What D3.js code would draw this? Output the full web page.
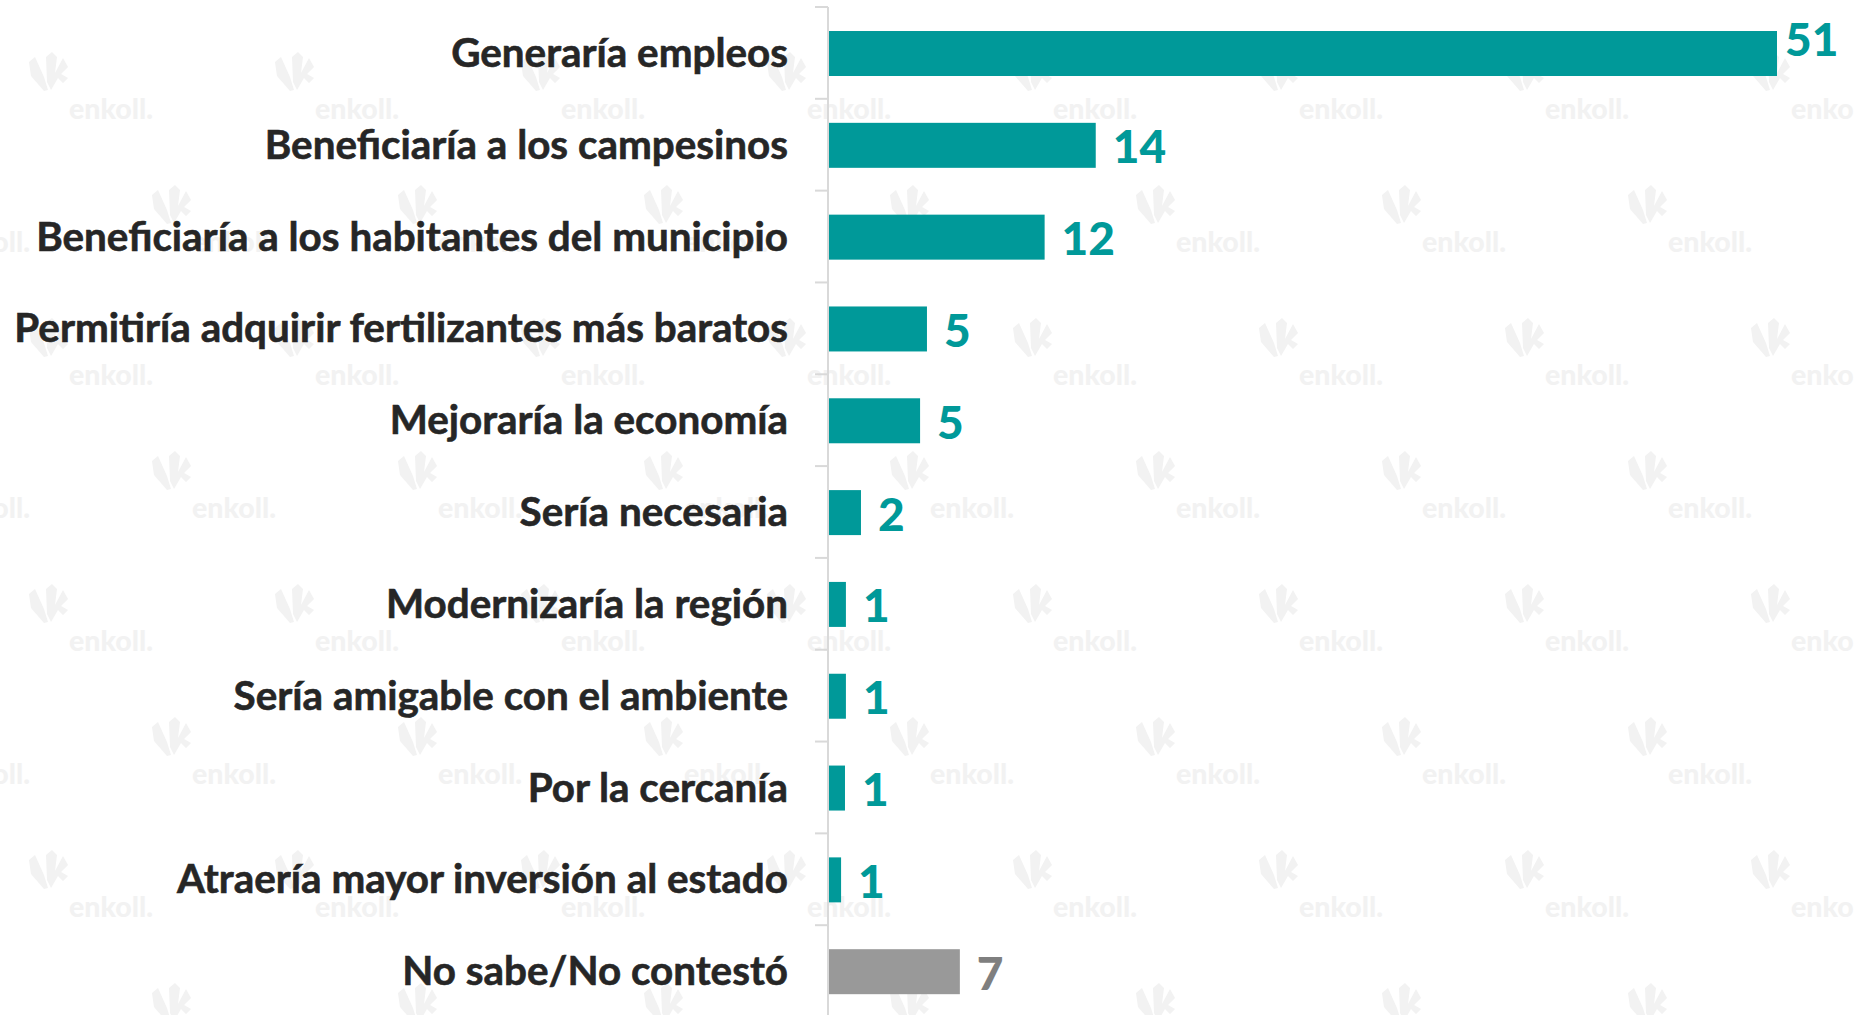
<!DOCTYPE html>
<html>
<head>
<meta charset="utf-8">
<script src="https://d3js.org/d3.v7.min.js"></script>
<style>
  html, body { margin: 0; background: #fff; }
  svg { display: block; }
  text { font-family: Lato, "Open Sans", sans-serif; font-weight: 700; }
</style>
</head>
<body>
<svg id="chart"></svg>
<script>
const categories = [
    "Generaría empleos",
    "Beneficiaría a los campesinos",
    "Beneficiaría a los habitantes del municipio",
    "Permitiría adquirir fertilizantes más baratos",
    "Mejoraría la economía",
    "Sería necesaria",
    "Modernizaría la región",
    "Sería amigable con el ambiente",
    "Por la cercanía",
    "Atraería mayor inversión al estado",
    "No sabe/No contestó"
];
// bar lengths, labels are the rounded numbers it prints
const values = [51, 14.35, 11.6, 5.27, 4.9, 1.72, 0.91, 0.91, 0.86, 0.65, 7.04];
const valueLabels = ["51", "14", "12", "5", "5", "2", "1", "1", "1", "1", "7"];
const greyCategories = ["No sabe/No contestó"];

const width = 1854;
const height = 1015;
const barColor = "#009999";
const greyBar = "#999999";
const greyLabel = "#7f7f7f";

const svg = d3.select("#chart").attr("width", width).attr("height", height);

// --- watermark ---
const watermark = svg.append("g").attr("fill", "#f2f2f2");
const logoPath = "M-20,-10 L-14,-15 L-5,5 L-1,18 L-5,19 L-18,4 Z "
    + "M-3,-15 L3,-20 L8,-15 L6,1 L14,-14 L19,-5 L12,2 L19,6 L14,11 L9,6 L2,18 L-2,10 Z";
d3.range(8).forEach(row => {
    const y = 72 + row * 133;
    const offset = row % 2 === 0 ? 0 : 123;
    d3.range(-1, 8).forEach(col => {
        const x = 49 + offset + col * 246;
        watermark.append("path")
            .attr("d", logoPath)
            .attr("transform", `translate(${x},${y})`);
        watermark.append("text")
            .attr("x", x + 20)
            .attr("y", y + 47)
            .attr("font-size", 28.5)
            .style("font-weight", 900)
            .text("enkoll.");
    });
});

// --- scales ---
const xScale = d3.scaleLinear()
    .domain([0, 51])
    .range([829, 1777]);

const yScale = d3.scaleBand()
    .domain(categories)
    .range([7.6, 1017.6])
    .paddingInner(0.51)
    .paddingOuter(0.255);

// --- axis ---
const tickYs = d3.range(categories.length + 1)
    .map(i => 7 + i * yScale.step());
const axis = svg.append("g").attr("stroke", "#d9d9d9").attr("stroke-width", 2);
axis.append("line")
    .attr("x1", 828).attr("x2", 828)
    .attr("y1", tickYs[0]).attr("y2", height);
axis.selectAll(".tick")
    .data(tickYs)
    .enter()
    .append("line")
    .attr("class", "tick")
    .attr("x1", 815).attr("x2", 828)
    .attr("y1", d => d).attr("y2", d => d);

// --- bars ---
const rows = categories.map((c, i) => ({ category: c, value: values[i], label: valueLabels[i] }));
const isGrey = d => greyCategories.includes(d.category);
const isLongest = d => d.value === d3.max(values);

svg.selectAll(".bar")
    .data(rows)
    .enter()
    .append("rect")
    .attr("class", "bar")
    .attr("x", xScale(0))
    .attr("y", d => yScale(d.category))
    .attr("width", d => xScale(d.value) - xScale(0))
    .attr("height", yScale.bandwidth())
    .attr("fill", d => isGrey(d) ? greyBar : barColor);

// --- category labels ---
svg.selectAll(".cat")
    .data(rows)
    .enter()
    .append("text")
    .attr("class", "cat")
    .attr("x", 788)
    .attr("y", d => yScale(d.category) + yScale.bandwidth() / 2 + 13.5)
    .attr("text-anchor", "end")
    .attr("font-size", 40.4)
    .attr("fill", "#262626")
    .attr("stroke", "#262626")
    .attr("stroke-width", 0.6)
    .text(d => d.category);

// --- value labels ---
// the longest bar has its label lifted and pulled in so it stays on the page
svg.selectAll(".val")
    .data(rows)
    .enter()
    .append("text")
    .attr("class", "val")
    .attr("x", d => xScale(d.value) + (isLongest(d) ? 8 : 17))
    .attr("y", d => yScale(d.category) + yScale.bandwidth() / 2 + (isLongest(d) ? 2 : 18))
    .attr("font-size", 46)
    .style("font-weight", 900)
    .attr("fill", d => isGrey(d) ? greyLabel : barColor)
    .text(d => d.label);
</script>
</body>
</html>
